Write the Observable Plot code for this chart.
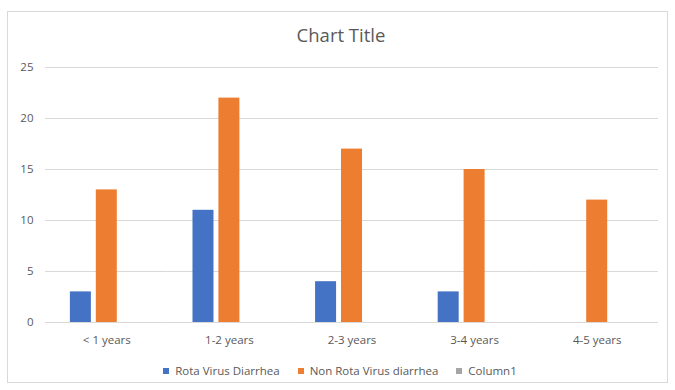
<!DOCTYPE html>
<html>
<head>
<meta charset="utf-8">
<script src="https://cdn.jsdelivr.net/npm/d3@7"></script>
<script src="https://cdn.jsdelivr.net/npm/@observablehq/plot@0.6"></script>
<style>
  html, body { margin: 0; padding: 0; background: #fff; }
  body { width: 675px; height: 390px; position: relative; overflow: hidden; font-family: "Open Sans", sans-serif; }
  #frame { position: absolute; left: 7px; top: 11px; width: 661px; height: 372px; box-sizing: border-box; border: 1px solid #d9d9d9; }
  #title { position: absolute; left: 0; top: 23px; width: 682px; text-align: center; font-size: 18.5px; line-height: 24px; color: #595959; }
  #chart { position: absolute; left: 0; top: 0; }
  #legend { position: absolute; left: 0; top: 362px; width: 680px; display: flex; justify-content: center; gap: 18px; font-size: 11.5px; line-height: 18px; color: #595959; }
  #legend .item { display: flex; align-items: center; gap: 6px; }
  #legend .swatch { width: 6px; height: 6px; }
</style>
</head>
<body>
<div id="frame"></div>
<div id="title">Chart Title</div>
<div id="chart"></div>
<div id="legend"></div>
<script>
// Age groups and case counts per series
const ageGroups = ["< 1 years", "1-2 years", "2-3 years", "3-4 years", "4-5 years"];
const seriesNames = ["Rota Virus Diarrhea", "Non Rota Virus diarrhea", "Column1"];
const rotaVirus = [3, 11, 4, 3, 0];
const nonRotaVirus = [13, 22, 17, 15, 12];
const column1 = [null, null, null, null, null];
const seriesColors = ["#4472C4", "#ED7D31", "#A5A5A5"];
const yTicks = [0, 5, 10, 15, 20, 25];

// Long-format table: one row per age group and series
const columns = [rotaVirus, nonRotaVirus, column1];
const rows = [];
ageGroups.forEach((age, i) => {
  seriesNames.forEach((name, j) => {
    const v = columns[j][i];
    if (v != null) rows.push({age, series: name, value: v});
  });
});

const textColor = "#595959";
const gridColor = "#d9d9d9";

const chart = Plot.plot({
  width: 675,
  height: 360,
  marginTop: 67,
  marginBottom: 38,
  marginLeft: 45,
  marginRight: 17,
  style: {fontFamily: "'Open Sans', sans-serif", background: "transparent"},
  fx: {domain: ageGroups, padding: 0, round: false, axis: null},
  x: {domain: seriesNames, axis: null, round: false, paddingInner: 0.19, paddingOuter: 0.96},
  y: {domain: [0, 25], axis: null},
  color: {domain: seriesNames, range: seriesColors},
  marks: [
    Plot.gridY(yTicks, {stroke: gridColor, strokeOpacity: 1, strokeWidth: 1}),
    Plot.axisY(yTicks, {anchor: "left", tickSize: 0, tickPadding: 12, fontSize: 11.5, fill: textColor, label: null}),
    Plot.axisFx({anchor: "bottom", tickSize: 0, tickPadding: 13, fontSize: 11.5, fill: textColor, label: null}),
    Plot.barY(rows, {fx: "age", x: "series", y: "value", fill: "series"})
  ]
});
document.getElementById("chart").appendChild(chart);

// Legend row below the plot
const legend = d3.select("#legend");
seriesNames.forEach((name, j) => {
  const item = legend.append("div").attr("class", "item");
  item.append("div").attr("class", "swatch").style("background", seriesColors[j]);
  item.append("span").text(name);
});
</script>
</body>
</html>
